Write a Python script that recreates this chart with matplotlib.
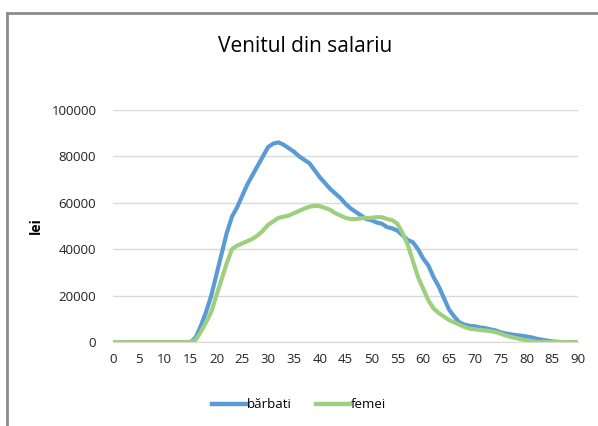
import matplotlib
matplotlib.use("Agg")
import matplotlib.pyplot as plt
from matplotlib.lines import Line2D

plt.rcParams["font.family"] = ["Open Sans", "DejaVu Sans"]

TITLE = "Venitul din salariu"
AGES = list(range(0, 91))

# venit mediu anual (lei) pe varsta
BARBATI = [0] * 16 + [
    2000, 7000, 13000, 20000, 29000, 38000, 47000, 54000, 58000, 63000,
    68000, 72000, 76000, 80000, 84000, 85500, 86000, 85000, 83500, 82000,
    80000, 78500, 77000, 74000, 71000, 68500, 66000, 64000, 62000, 59500,
    57500, 56000, 54500, 53000, 52500, 51500, 51000, 49500, 49000, 48000,
    46000, 44000, 43000, 40000, 36000, 33000, 28000, 24000, 19000, 14000,
    11000, 8500, 7500, 7000, 6800, 6300, 6000, 5500, 5000, 4200,
    3700, 3300, 3000, 2700, 2400, 2000, 1400, 1000, 600, 300,
    100, 0, 0, 0, 0,
]
FEMEI = [0] * 16 + [
    1000, 4500, 8500, 13000, 20000, 27000, 34000, 40000, 41500, 42500,
    43500, 44500, 46000, 48000, 50500, 52000, 53500, 54000, 54500, 55500,
    56500, 57500, 58300, 58700, 58500, 57800, 57000, 55500, 54500, 53500,
    53000, 53000, 53300, 53500, 53500, 53800, 53800, 53000, 52500, 51000,
    47000, 42000, 35000, 28000, 23000, 18000, 14500, 12500, 11000, 9500,
    8500, 7500, 6500, 5800, 5500, 5200, 5000, 4700, 4300, 3600,
    2800, 2200, 1700, 1200, 800, 400, 100, 0, 0, 0,
    0, 0, 0, 0, 0,
]
X_TICKS = list(range(0, 91, 5))
Y_TICKS = [0, 20000, 40000, 60000, 80000, 100000]

BLUE = "#5b9bd5"
GREEN = "#9dcf7e"


def main() -> None:
    fig = plt.figure(figsize=(5.98, 4.26), dpi=100)
    ax = fig.add_axes([0.189, 0.197, 0.778, 0.545])

    ax.plot(AGES, BARBATI, color=BLUE, linewidth=3, solid_capstyle="round")
    ax.plot(AGES, FEMEI, color=GREEN, linewidth=3, solid_capstyle="round")

    ax.set_xlim(0, 90)
    ax.set_ylim(0, 100000)
    ax.set_xticks(X_TICKS)
    ax.set_yticks(Y_TICKS)
    ax.tick_params(length=0, labelsize=9.5, colors="#222222", pad=8)
    ax.tick_params(axis="y", pad=12)
    ax.grid(axis="y", color="#d9d9d9", linewidth=1)
    ax.set_axisbelow(True)
    for s in ["top", "right", "left"]:
        ax.spines[s].set_visible(False)
    ax.spines["bottom"].set_color("#d9d9d9")

    ax.set_ylabel("lei", fontsize=10, fontweight="bold", labelpad=6)
    fig.text(0.51, 0.89, TITLE, ha="center", va="center", fontsize=15)

    handles = [Line2D([], [], color=BLUE, linewidth=3.2),
               Line2D([], [], color=GREEN, linewidth=3.2)]
    fig.legend(handles, ["bărbati", "femei"], loc="center", bbox_to_anchor=(0.5, 0.05),
               ncol=2, frameon=False, fontsize=9.5, handlelength=2.6,
               handletextpad=0.05, columnspacing=1.8)

    # rama graficului
    fig.add_artist(Line2D([0.012, 0.012], [0.0, 0.97], color="#8c8c8c", linewidth=2,
                          transform=fig.transFigure))
    fig.add_artist(Line2D([0.012, 1.0], [0.97, 0.97], color="#8c8c8c", linewidth=2,
                          transform=fig.transFigure))

    fig.savefig("out.png", dpi=100)
    plt.close(fig)


if __name__ == "__main__":
    main()
